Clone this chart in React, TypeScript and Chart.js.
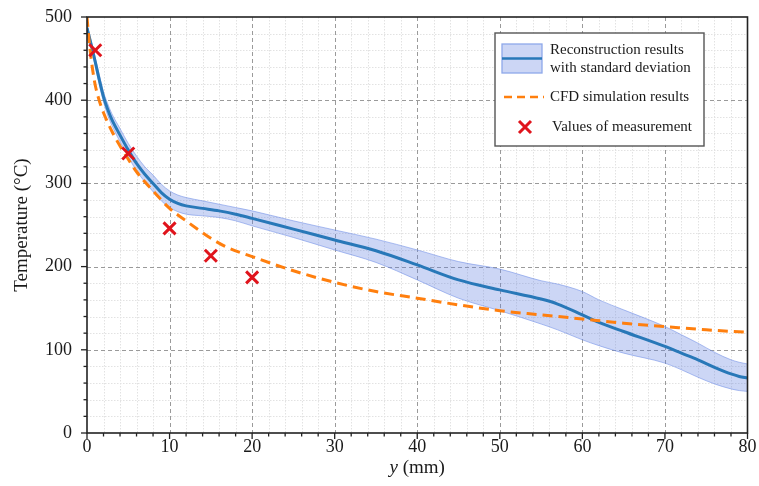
import React, { useEffect, useRef } from 'react';
import { Chart, registerables } from 'chart.js';

Chart.register(...registerables);

// ---- data ----
const reconX = [0, 0.5, 1, 1.5, 2, 2.5, 3, 4, 5, 6, 7, 8, 9, 10, 11, 12, 14, 16, 18, 20, 25, 30, 35, 40, 45, 50, 55, 57, 60, 62, 65, 70, 72, 74, 76, 78, 79, 80];
const reconY = [487, 467, 446, 424, 404, 389, 377, 358, 340, 324, 311, 300, 289, 281, 276, 273, 270, 267, 263, 258, 245, 232, 219, 202, 184, 172, 161, 155, 142, 133, 122, 104, 96, 88, 79, 71, 68, 66];
const reconUpper = [491, 471, 451, 430, 410, 396, 384, 366, 348, 333, 320, 310, 299, 291, 286, 283, 279, 275, 271, 267, 255, 244, 233, 220, 206, 197, 183, 179, 170, 160, 148, 128, 118, 108, 97, 88, 85, 83];
const reconLower = [483, 463, 441, 418, 398, 382, 370, 350, 332, 315, 302, 290, 279, 271, 266, 263, 261, 259, 255, 249, 235, 220, 205, 184, 162, 147, 131, 124, 112, 105, 96, 84, 76, 67, 59, 53, 51, 50];

const cfdX = [0, 0.25, 0.5, 0.75, 1, 1.5, 2, 3, 4, 5, 6, 7, 8, 10, 12, 15, 17, 20, 25, 30, 35, 40, 45, 50, 55, 60, 65, 70, 75, 80];
const cfdY = [500, 472, 450, 432, 418, 399, 385, 363, 345, 329, 314, 302, 291, 270, 255, 234, 223, 212, 195, 181, 170, 162, 154, 147, 142, 137, 132, 128, 124, 121];

const measX = [1, 5, 10, 15, 20];
const measY = [460, 336, 246, 213, 187];

const xTicks = [0, 10, 20, 30, 40, 50, 60, 70, 80];
const yTicks = [0, 100, 200, 300, 400, 500];
const xMinorStep = 2;
const yMinorStep = 20;

const legendLabels = ['Reconstruction results', 'with standard deviation', 'CFD simulation results', 'Values of measurement'];
const xTitleItalic = 'y';
const xTitleRest = ' (mm)';
const yTitle = 'Temperature (\u00B0C)';

// ---- styles ----
const FONT = '"Liberation Serif", "Times New Roman", serif';
const BLUE = '#2878b8';
const BAND = 'rgba(100,130,225,0.33)';
const BAND_EDGE = 'rgba(110,140,230,0.55)';
const ORANGE = '#ff7f0e';
const RED = '#e0141c';
const TEXT = '#1a1a1a';

const pts = (xs: number[], ys: number[]) => xs.map((x, i) => ({ x, y: ys[i] }));

const decorPlugin = {
  id: 'decor',
  beforeDatasetsDraw(chart: any) {
    const { ctx, chartArea: a, scales } = chart;
    const sx = scales.x, sy = scales.y;
    ctx.save();
    ctx.lineWidth = 1;
    // minor grid
    ctx.strokeStyle = '#e2e2e2';
    ctx.setLineDash([1.5, 1.5]);
    for (let v = sx.min + xMinorStep; v < sx.max; v += xMinorStep) {
      if (xTicks.includes(v)) continue;
      const p = Math.round(sx.getPixelForValue(v)) + 0.5;
      ctx.beginPath(); ctx.moveTo(p, a.top); ctx.lineTo(p, a.bottom); ctx.stroke();
    }
    for (let v = sy.min + yMinorStep; v < sy.max; v += yMinorStep) {
      if (yTicks.includes(v)) continue;
      const p = Math.round(sy.getPixelForValue(v)) + 0.5;
      ctx.beginPath(); ctx.moveTo(a.left, p); ctx.lineTo(a.right, p); ctx.stroke();
    }
    // major grid
    ctx.strokeStyle = '#9a9a9a';
    ctx.setLineDash([4, 3]);
    xTicks.forEach((v) => {
      if (v <= sx.min || v >= sx.max) return;
      const p = Math.round(sx.getPixelForValue(v)) + 0.5;
      ctx.beginPath(); ctx.moveTo(p, a.top); ctx.lineTo(p, a.bottom); ctx.stroke();
    });
    yTicks.forEach((v) => {
      if (v <= sy.min || v >= sy.max) return;
      const p = Math.round(sy.getPixelForValue(v)) + 0.5;
      ctx.beginPath(); ctx.moveTo(a.left, p); ctx.lineTo(a.right, p); ctx.stroke();
    });
    ctx.restore();
  },
  afterDraw(chart: any) {
    const { ctx, chartArea: a, scales } = chart;
    const sx = scales.x, sy = scales.y;
    ctx.save();
    // frame
    ctx.setLineDash([]);
    ctx.strokeStyle = '#222';
    ctx.lineWidth = 1.6;
    ctx.strokeRect(a.left, a.top, a.right - a.left, a.bottom - a.top);
    // ticks
    ctx.lineWidth = 1.3;
    for (let v = sx.min; v <= sx.max; v += xMinorStep) {
      const major = xTicks.includes(v);
      const p = sx.getPixelForValue(v);
      ctx.beginPath(); ctx.moveTo(p, a.bottom); ctx.lineTo(p, a.bottom + (major ? 6 : 3.5)); ctx.stroke();
    }
    for (let v = sy.min; v <= sy.max; v += yMinorStep) {
      const major = yTicks.includes(v);
      const p = sy.getPixelForValue(v);
      ctx.beginPath(); ctx.moveTo(a.left, p); ctx.lineTo(a.left - (major ? 6 : 3.5), p); ctx.stroke();
    }
    // axis titles
    ctx.fillStyle = TEXT;
    ctx.textBaseline = 'middle';
    ctx.font = `italic 19px ${FONT}`;
    const wI = ctx.measureText(xTitleItalic).width;
    ctx.font = `19px ${FONT}`;
    const wR = ctx.measureText(xTitleRest).width;
    const cx = (a.left + a.right) / 2;
    const startX = cx - (wI + wR) / 2;
    ctx.textAlign = 'left';
    ctx.font = `italic 19px ${FONT}`;
    ctx.fillText(xTitleItalic, startX, 468);
    ctx.font = `19px ${FONT}`;
    ctx.fillText(xTitleRest, startX + wI, 468);

    ctx.save();
    ctx.translate(22, (a.top + a.bottom) / 2);
    ctx.rotate(-Math.PI / 2);
    ctx.textAlign = 'center';
    ctx.fillText(yTitle, 0, 0);
    ctx.restore();

    // legend
    const L = 495, T = 33, R = 704, B = 146;
    ctx.fillStyle = '#ffffff';
    ctx.fillRect(L, T, R - L, B - T);
    ctx.strokeStyle = '#555';
    ctx.lineWidth = 1.4;
    ctx.strokeRect(L, T, R - L, B - T);
    // entry 1: band patch
    ctx.fillStyle = BAND;
    ctx.fillRect(502, 44, 40, 29);
    ctx.strokeStyle = '#8ea8ea';
    ctx.lineWidth = 1.3;
    ctx.strokeRect(502, 44, 40, 29);
    ctx.strokeStyle = BLUE;
    ctx.lineWidth = 2.5;
    ctx.beginPath(); ctx.moveTo(502, 58.5); ctx.lineTo(542, 58.5); ctx.stroke();
    // entry 2: dashed orange
    ctx.strokeStyle = ORANGE;
    ctx.lineWidth = 2.5;
    ctx.setLineDash([8, 5]);
    ctx.beginPath(); ctx.moveTo(504, 97); ctx.lineTo(544, 97); ctx.stroke();
    ctx.setLineDash([]);
    // entry 3: red X
    ctx.strokeStyle = RED;
    ctx.lineWidth = 3;
    const mx = 525, my = 127, r = 6;
    ctx.beginPath();
    ctx.moveTo(mx - r, my - r); ctx.lineTo(mx + r, my + r);
    ctx.moveTo(mx - r, my + r); ctx.lineTo(mx + r, my - r);
    ctx.stroke();
    // texts
    ctx.fillStyle = TEXT;
    ctx.font = `15px ${FONT}`;
    ctx.textAlign = 'left';
    ctx.textBaseline = 'middle';
    ctx.fillText(legendLabels[0], 550, 50);
    ctx.fillText(legendLabels[1], 550, 68);
    ctx.fillText(legendLabels[2], 550, 97);
    ctx.fillText(legendLabels[3], 552, 127);
    ctx.restore();
  },
};

export default function App() {
  const ref = useRef<HTMLCanvasElement | null>(null);
  useEffect(() => {
    document.body.style.margin = '0';
    const canvas = ref.current!;
    const chart = new Chart(canvas, {
      type: 'line',
      data: {
        datasets: [
          {
            label: 'meas',
            data: pts(measX, measY),
            showLine: false,
            pointStyle: 'crossRot',
            pointRadius: 8.5,
            pointBorderWidth: 3,
            borderColor: RED,
            backgroundColor: RED,
            order: 0,
          } as any,
          {
            label: 'cfd',
            data: pts(cfdX, cfdY),
            borderColor: ORANGE,
            borderWidth: 3,
            borderDash: [10, 6],
            pointRadius: 0,
            cubicInterpolationMode: 'monotone',
            fill: false,
            order: 1,
          },
          {
            label: 'recon',
            data: pts(reconX, reconY),
            borderColor: BLUE,
            borderWidth: 3,
            pointRadius: 0,
            cubicInterpolationMode: 'monotone',
            fill: false,
            order: 2,
          },
          {
            label: 'lower',
            data: pts(reconX, reconLower),
            borderColor: BAND_EDGE,
            borderWidth: 1,
            pointRadius: 0,
            cubicInterpolationMode: 'monotone',
            fill: false,
            order: 3,
          },
          {
            label: 'upper',
            data: pts(reconX, reconUpper),
            borderColor: BAND_EDGE,
            borderWidth: 1,
            pointRadius: 0,
            cubicInterpolationMode: 'monotone',
            backgroundColor: BAND,
            fill: '-1',
            order: 4,
          },
        ],
      },
      options: {
        responsive: false,
        animation: false,
        layout: { padding: { top: 17, right: 11, left: 0, bottom: 0 } },
        plugins: { legend: { display: false }, tooltip: { enabled: false } },
        scales: {
          x: {
            type: 'linear',
            min: 0,
            max: 80,
            grid: { display: false, drawTicks: false, tickLength: 0 },
            border: { display: false },
            afterBuildTicks: (s: any) => { s.ticks = xTicks.map((v) => ({ value: v })); },
            ticks: { font: { family: FONT, size: 18 }, color: TEXT, padding: 3, maxRotation: 0, autoSkip: false },
            afterFit: (s: any) => { s.height = 53; s.paddingLeft = 0; s.paddingRight = 0; },
          },
          y: {
            type: 'linear',
            min: 0,
            max: 500,
            grid: { display: false, drawTicks: false, tickLength: 0 },
            border: { display: false },
            afterBuildTicks: (s: any) => { s.ticks = yTicks.map((v) => ({ value: v })); },
            ticks: { font: { family: FONT, size: 18 }, color: TEXT, padding: 15, autoSkip: false },
            afterFit: (s: any) => { s.width = 87; s.paddingTop = 0; s.paddingBottom = 0; },
          },
        },
      },
      plugins: [decorPlugin],
    });
    return () => chart.destroy();
  }, []);
  return <canvas ref={ref} width={759} height={486} style={{ display: 'block' }} />;
}
